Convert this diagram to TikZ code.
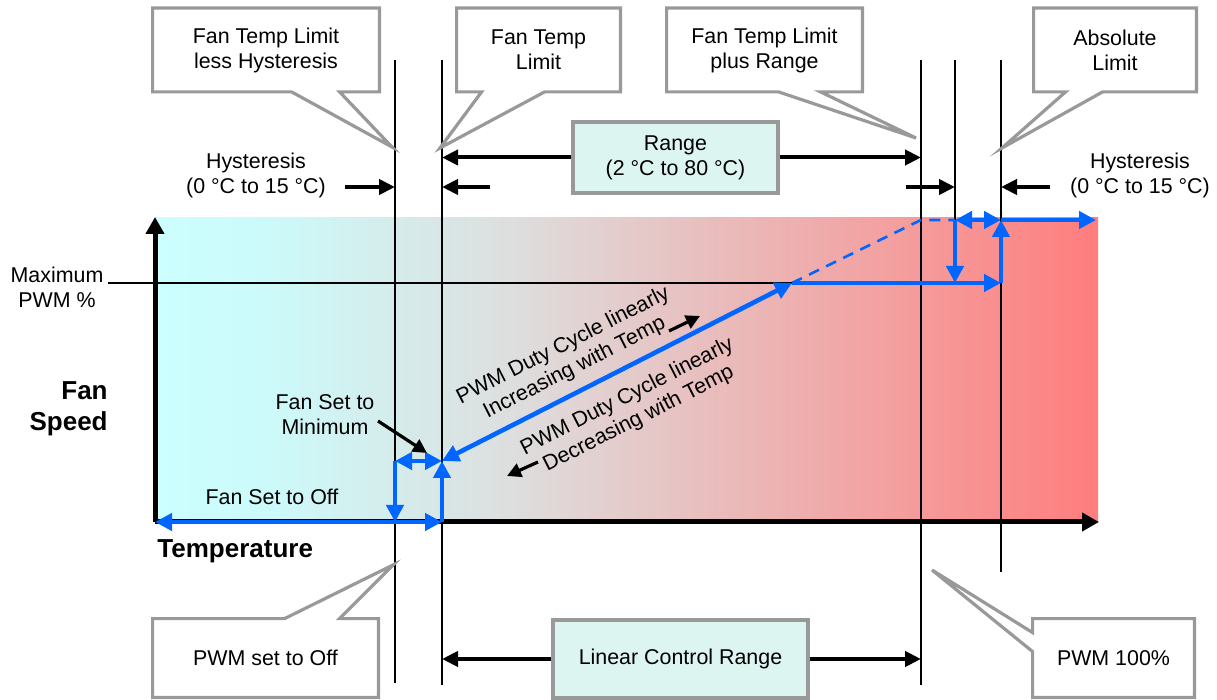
\documentclass[tikz,border=0pt]{standalone}
\usepackage{fontspec}
\setmainfont{Liberation Sans}
\usepackage{tikz}
\usetikzlibrary{arrows.meta}
\usetikzlibrary{positioning, calc}
\definecolor{pwmblue}{RGB}{0,102,255}
\definecolor{boxgray}{RGB}{153,153,153}
\definecolor{boxfill}{RGB}{221,245,240}
\pgfdeclarehorizontalshading{fanshade}{100bp}{rgb(0bp)=(0.8,1,1); rgb(25bp)=(0.8,1,1); rgb(31bp)=(0.8,0.98,0.98); rgb(44bp)=(0.87,0.87,0.87); rgb(75bp)=(1,0.49,0.49); rgb(100bp)=(1,0.49,0.49)}

\begin{document}
\begin{tikzpicture}[x=0.5pt,y=-0.5pt,
  every node/.style={font=\fontsize{10.7}{12.5}\selectfont,align=center,inner sep=0pt},
  calloutline/.style={draw=boxgray,line width=1.6pt},
  infobox/.style={draw=boxgray,fill=boxfill,line width=1.6pt},
  limit/.style={line width=1pt},
  axisline/.style={line width=2.5pt,->,>={Triangle[length=8.5pt,width=9pt]}},
  dimarrow/.style={line width=2pt,->,>={Triangle[length=8pt,width=7.5pt]}},
  notearrow/.style={line width=1.6pt,->,>={Triangle[length=7pt,width=7pt]}},
  pwm/.style={draw=pwmblue,line width=2.3pt,>={Triangle[length=8.5pt,width=8.5pt]}}]
  \useasboundingbox (0,0) rectangle (1217,700);

  % background of the chart
  \shade[shading=fanshade] (155,218) rectangle (1098,522);

  % limit lines
  \coordinate (l1t) at (395,60);  \coordinate (l1b) at (395,683);
  \coordinate (l2t) at (442,60);  \coordinate (l2b) at (442,685);
  \coordinate (l3t) at (921,60);  \coordinate (l3b) at (921,685);
  \coordinate (l4t) at (955,60);  \coordinate (l4b) at (955,283);
  \coordinate (l5t) at (1001,60); \coordinate (l5b) at (1001,572);
  \foreach \i in {1,...,5}
    \draw[limit] (l\i t) -- (l\i b);

  % callouts on top
  \node[minimum width=113pt,minimum height=41.5pt] (lessHyst) at (266,50) {Fan Temp Limit\\less Hysteresis};
  \node[minimum width=81.5pt,minimum height=41.5pt] (tempLimit) at (538.5,50) {Fan Temp\\Limit};
  \node[minimum width=97.5pt,minimum height=41.5pt] (plusRange) at (764.5,50) {Fan Temp Limit\\plus Range};
  \node[minimum width=81pt,minimum height=41.5pt] (absLimit) at (1115,50) {Absolute\\Limit};
  \coordinate (tA) at (392,147);
  \coordinate (tB) at (440,148);
  \coordinate (tC) at (916,138);
  \coordinate (tD) at (1002,148);
  \draw[calloutline] (lessHyst.south west) |- (lessHyst.north east) |- ($(lessHyst.south west)+(187,0)$) -- (tA) -- ($(lessHyst.south west)+(139,0)$) -- cycle;
  \draw[calloutline] (tempLimit.south west) |- (tempLimit.north east) |- ($(tempLimit.south west)+(88,0)$) -- (tB) -- ($(tempLimit.south west)+(25,0)$) -- cycle;
  \draw[calloutline] (plusRange.south west) |- (plusRange.north east) |- ($(plusRange.south west)+(154,0)$) -- (tC) -- ($(plusRange.south west)+(112,0)$) -- cycle;
  \draw[calloutline] (absLimit.south west) |- (absLimit.north east) |- ($(absLimit.south west)+(69,0)$) -- (tD) -- ($(absLimit.south west)+(32,0)$) -- cycle;

  % range and hysteresis
  \node[infobox,minimum width=102.5pt,minimum height=35.5pt] (range) at (675.5,157.5) {Range\\(2 °C to 80 °C)};
  \draw[dimarrow] (range.west) -- (range.west -| l2t);
  \draw[dimarrow] (range.east) -- (range.east -| l3t);
  \node (hystL) at (256,175) {Hysteresis\\(0 °C to 15 °C)};
  \node (hystR) at (1140,175) {Hysteresis\\(0 °C to 15 °C)};
  \coordinate (hA) at (345,187);
  \coordinate (hB) at (490,187);
  \coordinate (hC) at (906,187);
  \coordinate (hD) at (1050,187);
  \draw[dimarrow] (hA) -- (hA -| l1t);
  \draw[dimarrow] (hB) -- (hB -| l2t);
  \draw[dimarrow] (hC) -- (hC -| l4t);
  \draw[dimarrow] (hD) -- (hD -| l5t);

  % axes
  \coordinate (axisO) at (155,522);
  \coordinate (maxL) at (792,283);
  \draw[axisline] (axisO) -- (155,217);
  \draw[axisline] (axisO) -- (1099,522);
  \node (maxPwm) at (57,287.5) {Maximum\\PWM \%};
  \draw[limit] (108,283) -- (maxL);
  \node[font=\bfseries\fontsize{13}{15.5}\selectfont,align=right,anchor=east] (fanSpeed) at (108,409) {Fan\\Speed};
  \node[font=\bfseries\fontsize{13}{15.5}\selectfont,anchor=west] (temp) at (157,551) {Temperature};

  % fan speed curve
  \coordinate (offL) at (395,522);
  \coordinate (offR) at (442,522);
  \coordinate (minL) at (395,461);
  \coordinate (minR) at (442,461);
  \coordinate (maxR) at (1001,283);
  \coordinate (fullL) at (955,220);
  \coordinate (fullR) at (1001,220);
  \coordinate (fullEnd) at (1096,220);
  \draw[pwm,line width=1.3pt,dash pattern=on 5.5pt off 4pt] (maxL) -- (921,220) -- (fullL);
  \draw[pwm,<->] (axisO) -- (offR);
  \draw[pwm,->] (minL) -- (offL);
  \draw[pwm,<->] (minL) -- (minR);
  \draw[pwm,->] (offR) -- (minR);
  \draw[pwm,<->] (minR) -- (maxL);
  \draw[pwm,->] (maxL) -- (maxR);
  \draw[pwm,->] (maxR) -- (fullR);
  \draw[pwm,->] (fullL) -- (955,283);
  \draw[pwm,<->] (fullL) -- (fullR);
  \draw[pwm,->] (fullR) -- (fullEnd);

  % labels in the chart
  \node (fanOff) at (272,497) {Fan Set to Off};
  \node (fanMin) at (325,415) {Fan Set to\\Minimum};
  \draw[notearrow] (378,421) -- (427,453);
  \node[rotate=27] (incText) at (569,357) {PWM Duty Cycle linearly\\Increasing with Temp};
  \node[rotate=27] (decText) at (633,408) {PWM Duty Cycle linearly\\Decreasing with Temp};
  \draw[notearrow] (669,331) -- (700,316);
  \draw[notearrow] (538,462) -- (507,476);

  % callouts at the bottom
  \node[minimum width=112.5pt,minimum height=39pt] (pwmOff) at (265.5,658) {PWM set to Off};
  \node[minimum width=80.5pt,minimum height=39pt] (pwmFull) at (1113.5,658) {PWM 100\%};
  \coordinate (tE) at (393,565);
  \coordinate (tF) at (932,570);
  \draw[calloutline] (pwmOff.north west) -- ($(pwmOff.north west)+(132,0)$) -- (tE) -- ($(pwmOff.north west)+(187,0)$) -- (pwmOff.north east) -- (pwmOff.south east) -- (pwmOff.south west) -- cycle;
  \draw[calloutline] (pwmFull.north west) -- (pwmFull.north east) -- (pwmFull.south east) -- (pwmFull.south west) -- ($(pwmFull.north west)+(0,33)$) -- (tF) -- ($(pwmFull.north west)+(0,14)$) -- cycle;
  \node[infobox,minimum width=127.5pt,minimum height=39pt] (linear) at (680.5,659) {Linear Control Range};
  \draw[dimarrow] (linear.west) -- (linear.west -| l2b);
  \draw[dimarrow] (linear.east) -- (linear.east -| l3b);
\end{tikzpicture}
\end{document}
